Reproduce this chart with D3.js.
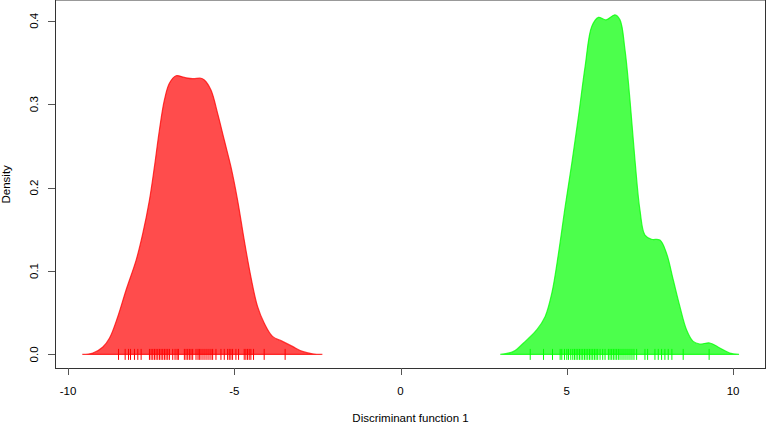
<!DOCTYPE html>
<html><head><meta charset="utf-8">
<script src="https://cdn.jsdelivr.net/npm/d3@7"></script>
<style>body{margin:0;background:#fff}svg{display:block}text{font-family:"Liberation Sans",Arial,sans-serif;fill:#000}</style>
</head><body><svg id="c" width="767" height="423"></svg>
<script>
const xTicks = [-10, -5, 0, 5, 10];
const yTicks = [0.0, 0.1, 0.2, 0.3, 0.4];
const yTickLabels = ["0.0", "0.1", "0.2", "0.3", "0.4"];
const xTitle = "Discriminant function 1";
const yTitle = "Density";

const redX = [-9.57,-9.25,-8.95,-8.75,-8.5,-8.25,-7.95,-7.75,-7.55,-7.4,-7.25,-7.1,-6.95,-6.75,-6.5,-6.25,-6.0,-5.9,-5.7,-5.5,-5.3,-5.1,-4.9,-4.7,-4.5,-4.3,-4.1,-3.85,-3.55,-3.25,-2.95,-2.65,-2.35];
const redDensity = [0,0.0017,0.0089,0.0196,0.0455,0.0775,0.113,0.145,0.185,0.225,0.269,0.305,0.325,0.334,0.332,0.3305,0.331,0.329,0.317,0.289,0.257,0.225,0.185,0.137,0.093,0.0575,0.0376,0.0216,0.0156,0.0096,0.0036,0.0008,0];

const greenX = [3.0,3.4,3.7,4.1,4.35,4.55,4.75,4.95,5.15,5.35,5.55,5.75,5.95,6.18,6.45,6.6,6.75,6.9,7.05,7.2,7.35,7.55,7.8,8.0,8.2,8.4,8.6,8.8,9.0,9.3,9.6,9.9,10.18];
const greenDensity = [0,0.0036,0.0137,0.0296,0.0455,0.0735,0.121,0.177,0.229,0.285,0.345,0.393,0.404,0.401,0.407,0.401,0.365,0.305,0.233,0.173,0.143,0.138,0.137,0.121,0.0895,0.0575,0.0296,0.0156,0.0125,0.0137,0.0077,0.0017,0];

const redRug = [-8.48,-8.28,-8.18,-8.12,-8.0,-7.9,-7.8,-7.55,-7.5,-7.45,-7.4,-7.35,-7.3,-7.25,-7.2,-7.15,-7.1,-7.05,-7.0,-6.95,-6.85,-6.78,-6.72,-6.68,-6.5,-6.45,-6.4,-6.35,-6.3,-6.25,-6.15,-6.09,-6.05,-6.0,-5.94,-5.88,-5.82,-5.76,-5.7,-5.65,-5.55,-5.4,-5.3,-5.2,-5.15,-5.1,-5.05,-4.95,-4.87,-4.7,-4.65,-4.6,-4.55,-4.5,-4.42,-4.1,-3.47];
const greenRug = [3.9,4.3,4.57,4.8,4.85,4.93,5.0,5.05,5.12,5.18,5.23,5.28,5.33,5.38,5.43,5.48,5.53,5.58,5.63,5.68,5.73,5.78,5.83,5.88,5.93,6.0,6.08,6.15,6.25,6.3,6.35,6.4,6.45,6.5,6.55,6.6,6.66,6.72,6.78,6.84,6.9,6.96,7.02,7.1,7.35,7.43,7.65,7.75,7.85,7.95,8.05,8.16,8.5,9.28];

const svg = d3.select("#c");
const L = 55, R = 766, T = 0.7, B = 368;
const x = d3.scaleLinear().domain([-10.39, 10.99]).range([L, R]);
const y = d3.scaleLinear().domain([-0.0163, 0.424]).range([B, T]);

function drawDensity(xs, ds, col, fill) {
  const pts = xs.map((v, i) => [v, ds[i]]);
  const area = d3.area().x(d => x(d[0])).y0(y(0)).y1(d => y(d[1])).curve(d3.curveCatmullRom.alpha(0.5));
  svg.append("path").datum(pts).attr("d", area).attr("fill", fill)
    .attr("stroke", col).attr("stroke-width", 1.2).attr("stroke-opacity", 0.75);
}
drawDensity(redX, redDensity, "#ff0000", "rgba(255,0,0,0.7)");
drawDensity(greenX, greenDensity, "#00ff00", "rgba(0,255,0,0.7)");

function drawRug(vals, col) {
  svg.append("g").selectAll("line").data(vals).join("line")
    .attr("x1", d => x(d)).attr("x2", d => x(d))
    .attr("y1", y(0) - 5.5).attr("y2", y(0) + 5.5)
    .attr("stroke", col).attr("stroke-width", 1);
}
drawRug(redRug, "#ff0000");
drawRug(greenRug, "#00ff00");

// box
svg.append("line").attr("x1", L).attr("x2", R).attr("y1", 0.5).attr("y2", 0.5).attr("stroke", "#999");
svg.append("line").attr("x1", R - 0.5).attr("x2", R - 0.5).attr("y1", 0).attr("y2", B).attr("stroke", "#333");
svg.append("line").attr("x1", L + 0.5).attr("x2", L + 0.5).attr("y1", 0).attr("y2", B).attr("stroke", "#333");
svg.append("line").attr("x1", L).attr("x2", R).attr("y1", B + 0.5).attr("y2", B + 0.5).attr("stroke", "#333");

// x axis
const xa = svg.append("g");
xTicks.forEach(t => {
  const px = Math.round(x(t)) + 0.5;
  xa.append("line").attr("x1", px).attr("x2", px).attr("y1", B).attr("y2", B + 7).attr("stroke", "#555");
  xa.append("text").attr("x", x(t)).attr("y", 395).attr("text-anchor", "middle").attr("font-size", 11.5).text(t);
});
svg.append("text").attr("x", (L + R) / 2).attr("y", 422).attr("text-anchor", "middle").attr("font-size", 11.5).text(xTitle);

// y axis
const ya = svg.append("g");
yTicks.forEach((t, i) => {
  const py = Math.round(y(t)) + 0.5;
  ya.append("line").attr("x1", L - 7).attr("x2", L).attr("y1", py).attr("y2", py).attr("stroke", "#555");
  ya.append("text").attr("transform", `translate(38,${y(t)}) rotate(-90)`).attr("text-anchor", "middle").attr("font-size", 11.5).text(yTickLabels[i]);
});
svg.append("text").attr("transform", `translate(10,${(T + B) / 2}) rotate(-90)`).attr("text-anchor", "middle").attr("font-size", 11.5).text(yTitle);
</script></body></html>
